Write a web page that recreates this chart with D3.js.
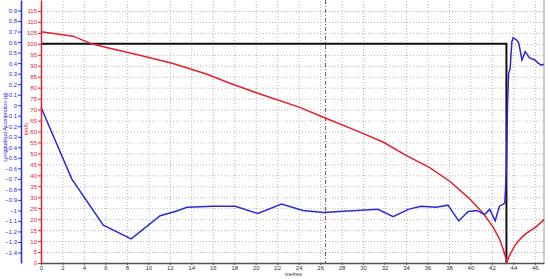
<!DOCTYPE html>
<html>
<head>
<meta charset="utf-8">
<script src="https://cdn.jsdelivr.net/npm/d3@7"></script>
<style>
  body { margin: 0; background: #fff; }
  svg { display: block; font-family: "Liberation Sans", Arial, sans-serif; }
  .grid line { stroke: #b4b4b4; stroke-width: 1; stroke-dasharray: 1,2; }
  .grid path { display: none; }
  .tick text { font-size: 6px; }
</style>
</head>
<body>
<div id="graph"></div>
<script>
var width = 550;
var height = 279;

// speed trace (km/h) against distance (metres)
var speedDist = [0, 3.0, 4.7, 6.1, 9.2, 12.3, 15.4, 17.6, 20.4, 24.1, 26.3, 29.7, 31.9, 34.0, 36.2, 38.1, 39.9, 41.2, 42.1, 42.7, 43.0, 43.2, 43.4, 43.6, 43.8, 44.1, 44.4, 44.8, 45.2, 46.1, 46.85];
var speedKmh  = [105.5, 103.5, 100, 98.3, 94.8, 91, 86.2, 82, 77.1, 71, 66.5, 59.7, 55.1, 49.1, 43.5, 37.2, 29.4, 22.6, 16.5, 11, 7, 3.8, 0.3, 3, 5, 7.6, 9.7, 11.8, 13.5, 16.5, 19.8];

// longitudinal acceleration (g) against distance (metres)
var accDist = [0, 2.86, 5.8, 8.4, 11.1, 12.5, 13.6, 16.0, 18.1, 20.2, 22.4, 24.4, 26.3, 27.8, 31.4, 32.8, 34.2, 35.4, 36.8, 37.9, 38.9, 39.8, 40.6, 41.3, 41.8, 42.3, 42.7, 43.2, 43.35, 43.45, 43.55, 43.7, 43.85, 43.97, 44.3, 44.5, 44.8, 45.1, 45.5, 46.0, 46.3, 46.6, 46.85];
var accG    = [-0.02, -0.70, -1.14, -1.27, -1.05, -1.01, -0.97, -0.96, -0.96, -1.03, -0.94, -1.00, -1.02, -1.01, -0.99, -1.06, -0.99, -0.96, -0.97, -0.95, -1.10, -1.01, -1.00, -1.04, -0.99, -1.10, -0.96, -0.93, -0.6, 0.0, 0.3, 0.35, 0.6, 0.64, 0.62, 0.59, 0.43, 0.51, 0.45, 0.43, 0.40, 0.38, 0.39];

// target speed step
var targetDist = [0, 43.35, 43.35];
var targetKmh  = [100, 100, 0];

var markerDist = 26.5;

var xTicks = d3.range(0, 47, 2);
var speedTicks = d3.range(0, 120, 5);
var accTicks = d3.range(-14, 10, 1).map(function(d) { return d / 10; });

var plotLeft = 41, plotRight = 544, plotTop = 0, plotBottom = 263;

var x = d3.scaleLinear().domain([0, 46.85]).range([plotLeft, plotRight]);
var ySpeed = d3.scaleLinear().domain([0, 120]).range([plotBottom, plotTop]);
var yAcc = d3.scaleLinear().domain([-1.5, 1.0]).range([plotBottom, plotTop]);

var svg = d3.select("#graph").append("svg")
  .attr("width", width)
  .attr("height", height);

// grid
svg.append("g")
  .attr("class", "grid")
  .attr("transform", "translate(0," + plotBottom + ")")
  .call(d3.axisBottom(x).tickValues(xTicks.slice(1)).tickSize(-(plotBottom - plotTop)).tickFormat(""));
svg.append("g")
  .attr("class", "grid")
  .attr("transform", "translate(" + plotLeft + ",0)")
  .call(d3.axisLeft(ySpeed).tickValues(speedTicks.slice(1)).tickSize(-(plotRight - plotLeft)).tickFormat(""));

// right border
svg.append("line")
  .attr("x1", plotRight).attr("x2", plotRight).attr("y1", plotTop).attr("y2", plotBottom)
  .attr("stroke", "#999").attr("stroke-width", 1);

// marker line
svg.append("line")
  .attr("x1", x(markerDist)).attr("x2", x(markerDist))
  .attr("y1", plotTop).attr("y2", plotBottom)
  .attr("stroke", "#a05050").attr("stroke-width", 1)
  .attr("stroke-dasharray", "4,2,1,2");

var speedLine = d3.line()
  .x(function(d, i) { return x(speedDist[i]); })
  .y(function(d) { return ySpeed(d); });

var accLine = d3.line()
  .x(function(d, i) { return x(accDist[i]); })
  .y(function(d) { return yAcc(d); });

var targetLine = d3.line()
  .x(function(d, i) { return x(targetDist[i]); })
  .y(function(d) { return ySpeed(d); });

svg.append("path")
  .datum(targetKmh)
  .attr("d", targetLine)
  .attr("fill", "none")
  .attr("stroke", "#111")
  .attr("stroke-width", 2);

svg.append("path")
  .datum(speedKmh)
  .attr("d", speedLine)
  .attr("fill", "none")
  .attr("stroke", "#e4202a")
  .attr("stroke-width", 1.5);

svg.append("path")
  .datum(accG)
  .attr("d", accLine)
  .attr("fill", "none")
  .attr("stroke", "#2a2ad8")
  .attr("stroke-width", 1.5);

// axes
var xAxis = svg.append("g")
  .attr("transform", "translate(0," + plotBottom + ")")
  .call(d3.axisBottom(x).tickValues(xTicks).tickSize(2).tickPadding(1).tickSizeOuter(0));
xAxis.select(".domain").attr("stroke", "#555").attr("stroke-width", 1.5);
xAxis.selectAll(".tick line").attr("stroke", "#555");
xAxis.selectAll("text").attr("fill", "#333");

var speedAxis = svg.append("g")
  .attr("transform", "translate(" + plotLeft + ",0)")
  .call(d3.axisLeft(ySpeed).tickValues(speedTicks).tickSize(3).tickPadding(1).tickSizeOuter(0));
speedAxis.select(".domain").attr("stroke", "#e4202a").attr("stroke-width", 1.5);
speedAxis.selectAll(".tick line").attr("stroke", "#e4202a");
speedAxis.selectAll("text").attr("fill", "#e4202a");

var accAxis = svg.append("g")
  .attr("transform", "translate(21,0)")
  .call(d3.axisLeft(yAcc).tickValues(accTicks).tickSize(3).tickPadding(1).tickSizeOuter(0)
    .tickFormat(function(d) { return d3.format("")(Math.round(d * 10) / 10); }));
accAxis.select(".domain").attr("stroke", "#2a2ad8").attr("stroke-width", 1.5);
accAxis.selectAll(".tick line").attr("stroke", "#2a2ad8");
accAxis.selectAll("text").attr("fill", "#2a2ad8");

// axis titles
svg.append("text")
  .attr("transform", "translate(7,127) rotate(-90)")
  .attr("text-anchor", "middle")
  .attr("font-size", "5.5px")
  .attr("fill", "#2a2ad8")
  .text("Longitudinal Acceleration (g)");

svg.append("text")
  .attr("transform", "translate(28,129) rotate(-90)")
  .attr("text-anchor", "middle")
  .attr("font-size", "5.5px")
  .attr("fill", "#e4202a")
  .text("km/h");

svg.append("text")
  .attr("x", 285)
  .attr("y", 276)
  .attr("font-size", "5.5px")
  .attr("fill", "#333")
  .text("metres");
</script>
</body>
</html>
